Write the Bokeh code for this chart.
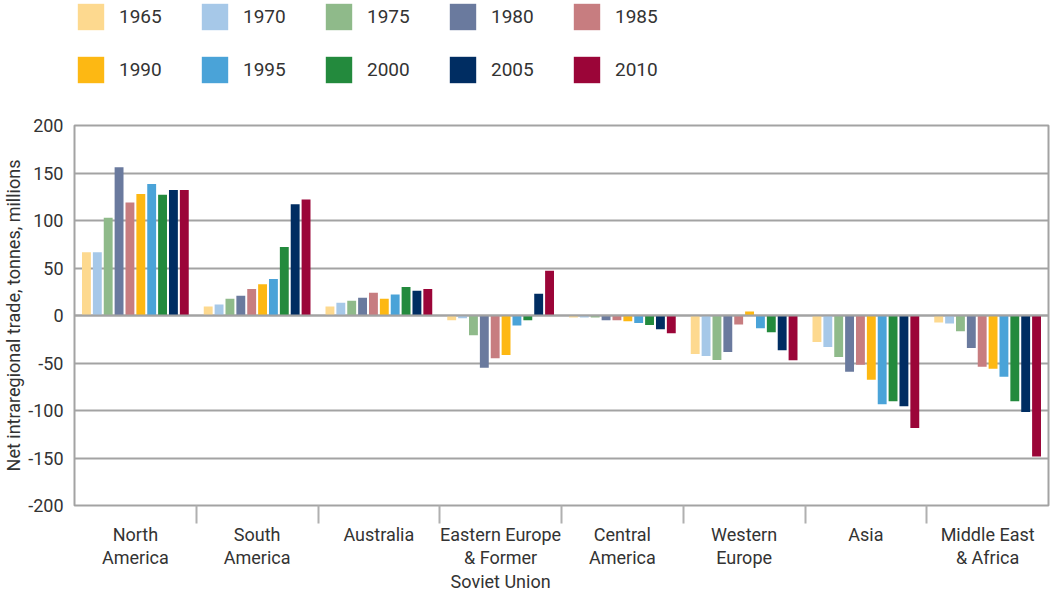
from bokeh.plotting import figure
from bokeh.layouts import column
from bokeh.models import (Range1d, LinearAxis, FixedTicker,
                          Legend, LegendItem, ColumnDataSource, Span)
from bokeh.transform import dodge
from bokeh.embed import file_html
from bokeh.resources import INLINE

regions = ["North\nAmerica", "South\nAmerica", "Australia",
           "Eastern Europe\n& Former\nSoviet Union", "Central\nAmerica",
           "Western\nEurope", "Asia", "Middle East\n& Africa"]
years = ["1965", "1970", "1975", "1980", "1985", "1990", "1995", "2000", "2005", "2010"]

v1965 = [66.7, 9.4, 9.4, -5.0, -2.0, -40.6, -28.0, -7.3]
v1970 = [66.7, 11.5, 13.5, -3.0, -2.0, -42.7, -33.2, -8.3]
v1975 = [103.0, 17.7, 15.6, -20.8, -2.0, -46.9, -43.6, -16.6]
v1980 = [156.0, 20.8, 18.8, -55.0, -5.0, -38.5, -59.2, -34.3]
v1985 = [119.0, 28.0, 24.0, -45.0, -5.0, -9.4, -51.9, -54.0]
v1990 = [128.0, 33.0, 17.7, -41.7, -6.0, 4.2, -67.5, -56.0]
v1995 = [138.5, 38.5, 22.0, -10.4, -8.0, -13.5, -93.4, -64.4]
v2000 = [127.0, 72.0, 30.0, -5.0, -10.0, -17.7, -90.3, -90.3]
v2005 = [132.0, 117.0, 26.0, 23.0, -14.6, -36.5, -95.5, -101.7]
v2010 = [132.0, 122.0, 28.0, 47.0, -18.8, -47.0, -118.3, -148.4]
series = [v1965, v1970, v1975, v1980, v1985, v1990, v1995, v2000, v2005, v2010]

colors = ["#FDD98F", "#A6C8E8", "#8FBA8A", "#6A7A9E", "#C77D80",
          "#FDB813", "#4AA3D8", "#238A3D", "#002D62", "#9B0538"]

y_ticks = [-200, -150, -100, -50, 0, 50, 100, 150, 200]
y_labels = ["-200", "-150", "-100", "-50", "0", "50", "100", "150", "200"]

FONT = "Roboto"
TXT = "#333333"
GRID = "#a3a3a3"

n = len(regions)
centers = [i + 0.5 for i in range(n)]
bounds = [i for i in range(1, n)]

# ---------------- main chart ----------------
p = figure(width=1050, height=478,
           x_range=Range1d(0, n), y_range=Range1d(-200, 200),
           output_backend="svg", toolbar_location=None,
           x_axis_location=None,
           min_border_left=61, min_border_right=2, min_border_top=9,
           min_border_bottom=0)

pitch = 0.0893
bar_w = 0.073
for j, (yr, vals) in enumerate(zip(years, series)):
    src = ColumnDataSource(dict(pos=centers, val=vals))
    off = (j - (len(years) - 1) / 2) * pitch
    p.vbar(x=dodge("pos", off), top="val", bottom=0,
           width=bar_w, source=src, fill_color=colors[j], line_color=None)

p.add_layout(Span(location=0, dimension="width", line_color=GRID, line_width=2))

p.yaxis.ticker = FixedTicker(ticks=y_ticks)
p.yaxis.major_label_overrides = {t: l for t, l in zip(y_ticks, y_labels)}
p.yaxis.axis_line_color = None
p.yaxis.major_tick_line_color = None
p.yaxis.minor_tick_line_color = None
p.yaxis.major_label_standoff = 5
p.yaxis.major_label_text_font = FONT
p.yaxis.major_label_text_font_size = "18px"
p.yaxis.major_label_text_color = TXT
p.yaxis.axis_label = "Net intraregional trade, tonnes, millions"
p.yaxis.axis_label_text_font = FONT
p.yaxis.axis_label_text_font_size = "18px"
p.yaxis.axis_label_text_font_style = "normal"
p.yaxis.axis_label_text_color = TXT
p.yaxis.axis_label_standoff = 1

p.xgrid.grid_line_color = None
p.ygrid.grid_line_color = GRID
p.ygrid.grid_line_width = 2
p.ygrid.ticker = FixedTicker(ticks=y_ticks)
p.outline_line_color = GRID
p.outline_line_width = 2

# region names at group centres, separators as minor ticks at group bounds
cat_axis = LinearAxis(ticker=FixedTicker(ticks=centers, minor_ticks=bounds),
                      major_label_overrides={c: r for c, r in zip(centers, regions)},
                      major_tick_line_color=None, major_tick_in=0, major_tick_out=0,
                      minor_tick_in=0, minor_tick_out=18,
                      minor_tick_line_color="#b0b0b0", minor_tick_line_width=2,
                      axis_line_color=None,
                      major_label_standoff=0,
                      major_label_text_font=FONT,
                      major_label_text_font_size="18px",
                      major_label_text_line_height=1.12,
                      major_label_text_color=TXT)
p.add_layout(cat_axis, "below")

# ---------------- legend strip ----------------
LH = 116
lg = figure(width=1050, height=LH, x_range=Range1d(0, 1), y_range=Range1d(0, 1),
            output_backend="svg", toolbar_location=None,
            x_axis_location=None, y_axis_location=None,
            min_border=0, outline_line_color=None)
lg.grid.visible = False

items = []
for yr, c in zip(years, colors):
    # swatch-only renderer placed outside the visible range
    r = lg.vbar(x=[-5], top=[0], bottom=[0], width=0.1, fill_color=c, line_color=None)
    items.append(LegendItem(label=yr, renderers=[r]))

leg_kw = dict(orientation="horizontal", glyph_width=33, glyph_height=33,
              label_standoff=12, label_width=54, spacing=25, padding=0, margin=0,
              border_line_alpha=0, background_fill_alpha=0,
              label_text_font=FONT, label_text_font_size="19px",
              label_text_color=TXT)
legend1 = Legend(items=items[:5], location=(0, LH - 33), **leg_kw)
legend2 = Legend(items=items[5:], location=(0, LH - 86), **leg_kw)
lg.add_layout(legend1)
lg.add_layout(legend2)

layout = column(lg, p, spacing=0)
open("out.html", "w").write(file_html(layout, INLINE))
